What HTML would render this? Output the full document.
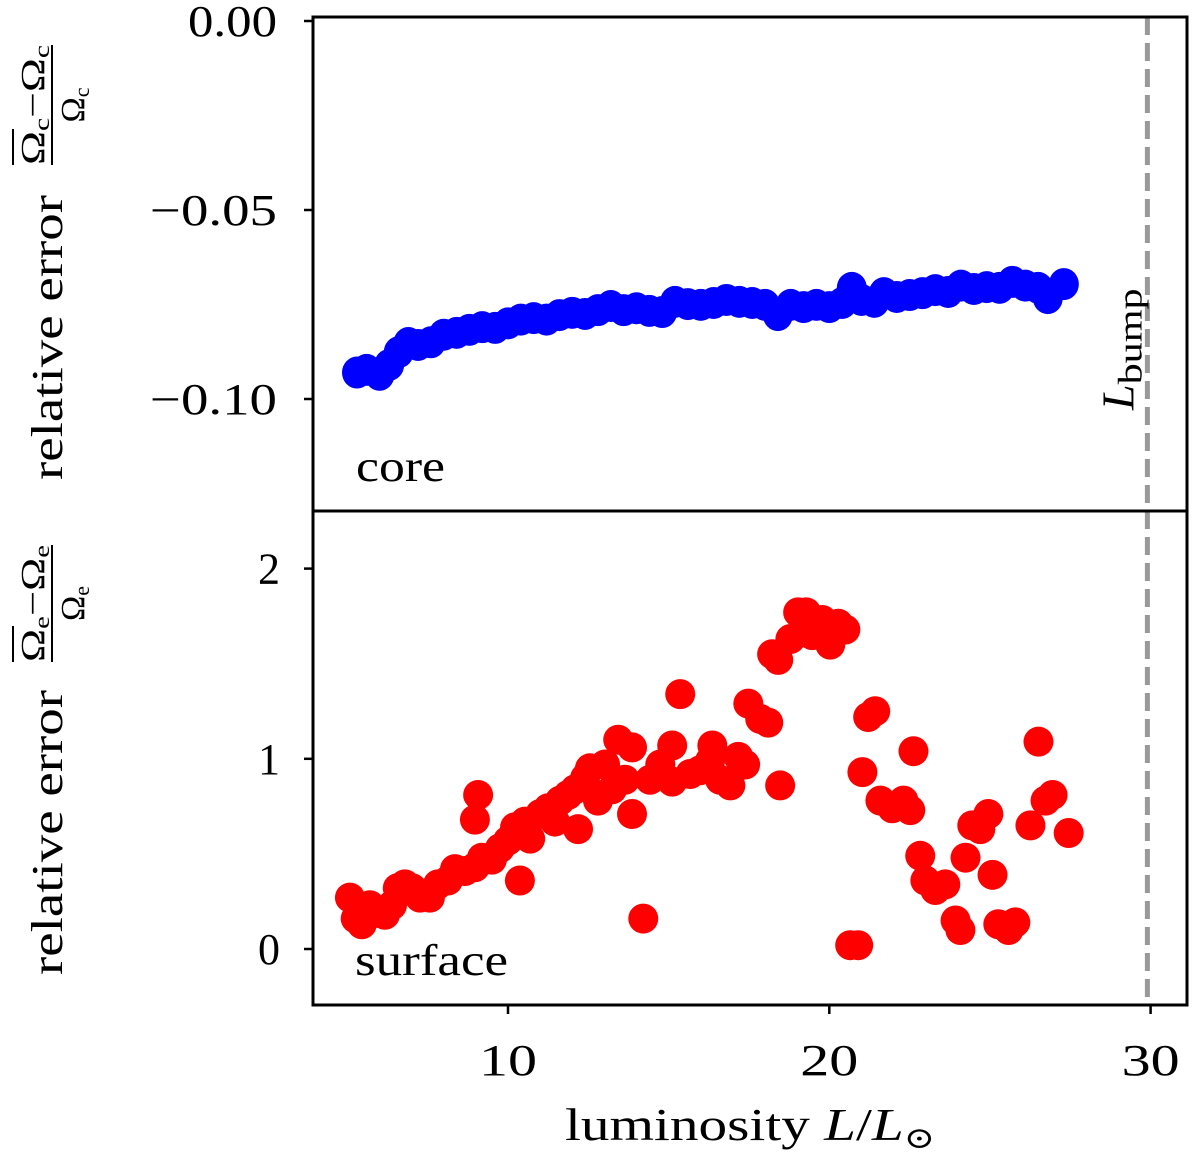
<!DOCTYPE html>
<html><head><meta charset="utf-8"><style>
body{margin:0;background:#fff}
svg{display:block;font-family:"Liberation Serif","DejaVu Serif",serif}
</style></head><body>
<svg id="chart" width="1200" height="1164" viewBox="0 0 1200 1164">
<g id="top-marks"></g>
<g id="bot-marks"></g>
<g id="axes"></g>
</svg>
<script>
const coreL=[5.3,5.6,6.0,6.3,6.6,6.9,7.2,7.6,8.0,8.4,8.8,9.2,9.6,10.0,10.4,10.8,11.2,11.6,12.0,12.4,12.8,13.2,13.6,14.0,14.4,14.8,15.2,15.6,16.0,16.4,16.8,17.2,17.6,18.0,18.4,18.8,19.2,19.6,20.0,20.4,20.7,21.0,21.4,21.7,22.1,22.5,22.9,23.3,23.7,24.1,24.5,24.9,25.3,25.7,26.1,26.5,26.8,27.3];
const coreErr=[-0.093,-0.0923,-0.0936,-0.091,-0.0876,-0.0852,-0.0857,-0.085,-0.083,-0.0825,-0.0817,-0.081,-0.0812,-0.080,-0.079,-0.0786,-0.079,-0.0778,-0.0772,-0.0775,-0.0765,-0.0754,-0.0765,-0.076,-0.0767,-0.077,-0.0743,-0.0749,-0.0751,-0.0746,-0.0738,-0.0743,-0.0746,-0.0751,-0.0778,-0.0751,-0.0757,-0.0751,-0.0757,-0.0746,-0.0706,-0.0738,-0.0743,-0.072,-0.073,-0.0725,-0.072,-0.0712,-0.0717,-0.070,-0.0709,-0.0704,-0.0706,-0.069,-0.070,-0.0706,-0.0733,-0.0696];
const surfL=[5.08,5.26,5.45,5.70,5.95,6.17,6.39,6.57,6.79,7.01,7.26,7.57,7.82,8.13,8.35,8.66,8.97,9.19,9.50,9.75,10.00,10.22,10.37,10.53,10.69,11.00,11.25,11.46,11.62,11.87,12.09,12.18,12.40,12.55,12.80,13.02,13.24,13.43,13.64,13.86,8.97,9.07,14.21,13.86,14.42,14.74,15.11,15.11,15.36,15.67,15.98,16.29,16.36,16.60,16.92,17.17,17.38,17.48,17.85,18.10,18.47,18.22,18.41,18.79,19.03,19.28,19.47,19.78,20.03,20.28,20.50,20.65,20.90,21.03,21.21,21.43,21.59,21.96,22.31,22.52,22.62,22.83,22.99,23.30,23.61,23.93,24.08,24.24,24.45,24.70,24.95,25.08,25.26,25.58,25.79,26.26,26.51,26.73,26.95,27.45];
const surfErr=[0.27,0.16,0.13,0.23,0.19,0.18,0.23,0.32,0.34,0.32,0.27,0.27,0.34,0.36,0.42,0.41,0.43,0.48,0.47,0.53,0.57,0.64,0.36,0.67,0.58,0.71,0.74,0.67,0.78,0.81,0.84,0.63,0.90,0.95,0.78,0.97,0.84,1.10,0.89,0.71,0.68,0.81,0.16,1.06,0.89,0.97,1.07,0.88,1.34,0.92,0.94,0.99,1.07,0.89,0.86,1.01,0.97,1.29,1.21,1.19,0.86,1.55,1.52,1.63,1.77,1.77,1.65,1.73,1.60,1.71,1.68,0.02,0.02,0.93,1.22,1.25,0.78,0.74,0.78,0.73,1.04,0.49,0.36,0.31,0.34,0.15,0.10,0.48,0.65,0.63,0.71,0.39,0.13,0.10,0.14,0.65,1.09,0.78,0.81,0.61];
const xTicks=[10,20,30];
const topTicks=[0.00,-0.05,-0.10];
const topTickLabels=["0.00","\u22120.05","\u22120.10"];
const botTicks=[0,1,2];
const botTickLabels=["0","1","2"];
const Lbump=29.9;

const NS="http://www.w3.org/2000/svg";
const X0=313,X1=1187,TY0=17,TY1=511,BY0=511,BY1=1005;
const xs=v=>508+(v-10)*32.13;
const ty=v=>21-v*3780;
const by=v=>949-v*190.2;
function mk(parent,tag,attrs,text){const e=document.createElementNS(NS,tag);for(const k in attrs)e.setAttribute(k,attrs[k]);if(text!==undefined)e.textContent=text;parent.appendChild(e);return e;}

const tm=document.getElementById('top-marks');
coreL.forEach((l,i)=>{const c=mk(tm,'ellipse',{cx:xs(l),cy:ty(coreErr[i]),rx:15,ry:16,fill:'#0000ff'});

});
const bm=document.getElementById('bot-marks');
surfL.forEach((l,i)=>{const c=mk(bm,'circle',{cx:xs(l),cy:by(surfErr[i]),r:15,fill:'#ff0000'});

});

const ax=document.getElementById('axes');
[[TY0,TY1],[BY0,BY1]].forEach(([a,b])=>{const ln=mk(ax,'line',{x1:xs(Lbump),x2:xs(Lbump),y1:a,y2:b,stroke:'#999',"stroke-width":5,"stroke-dasharray":"18,8"});

});
const lt=mk(ax,'text',{transform:`translate(${xs(Lbump)-14},410) rotate(-90)`,"font-size":46,"font-style":"italic"});


lt.innerHTML='L<tspan font-style="normal" font-size="34" dy="8" textLength="96" lengthAdjust="spacingAndGlyphs">bump</tspan>';
[[TY0,TY1,'top-frame'],[BY0,BY1,'bottom-frame']].forEach(([a,b,n])=>{const r=mk(ax,'rect',{x:X0,y:a,width:X1-X0,height:b-a,fill:'none',stroke:'#000',"stroke-width":3});

});
topTicks.forEach((t,i)=>{mk(ax,'line',{x1:X0-9,x2:X0,y1:ty(t),y2:ty(t),stroke:'#000',"stroke-width":2.5});
const len=topTickLabels[i].length>4?127:89;
const tx=mk(ax,'text',{x:X0-36-len,y:ty(t)+15,"font-size":44,textLength:len,lengthAdjust:"spacingAndGlyphs"},topTickLabels[i]);

});
botTicks.forEach((t,i)=>{mk(ax,'line',{x1:X0-9,x2:X0,y1:by(t),y2:by(t),stroke:'#000',"stroke-width":2.5});
const tx=mk(ax,'text',{x:X0-33,y:by(t)+15,"font-size":44,"text-anchor":"end"},botTickLabels[i]);

});
xTicks.forEach(t=>{mk(ax,'line',{x1:xs(t),x2:xs(t),y1:BY1,y2:BY1+9,stroke:'#000',"stroke-width":2.5});
const tx=mk(ax,'text',{x:xs(t)-29,y:1075,"font-size":44,textLength:58,lengthAdjust:"spacingAndGlyphs"},String(t));

});
const xt=mk(ax,'text',{x:565,y:1140,"font-size":46,textLength:370,lengthAdjust:"spacingAndGlyphs"});


xt.innerHTML='luminosity <tspan font-style="italic">L</tspan>/<tspan font-style="italic">L</tspan><tspan font-size="30" dy="8">⊙</tspan>';
const c1=mk(ax,'text',{x:356,y:481,"font-size":44,textLength:89,lengthAdjust:"spacingAndGlyphs"},'core');


const c2=mk(ax,'text',{x:355,y:975,"font-size":44,textLength:153,lengthAdjust:"spacingAndGlyphs"},'surface');


function ylabel(bottomY,fracEnd,fracStart,sub,name){
 const g=mk(ax,'g',{transform:'rotate(-90)'});
 
 
 mk(g,'text',{x:-bottomY,y:62,"font-size":44,textLength:bottomY-(bottomY-285),lengthAdjust:"spacingAndGlyphs"},'relative error');
 const num=mk(g,'text',{x:-fracStart,y:44,"font-size":34,textLength:fracStart-fracEnd,lengthAdjust:"spacingAndGlyphs"});
 num.innerHTML='Ω<tspan font-size="22" dy="5">'+sub+'</tspan><tspan dy="-5">−Ω</tspan><tspan font-size="22" dy="5">'+sub+'</tspan>';
 mk(g,'line',{x1:-fracStart,x2:-fracStart+36,y1:13,y2:13,stroke:'#000',"stroke-width":2});
 mk(g,'line',{x1:-fracStart,x2:-fracEnd,y1:52,y2:52,stroke:'#000',"stroke-width":2});
 const mid=(fracStart+fracEnd)/2;
 const den=mk(g,'text',{x:-mid,y:84,"font-size":34,"text-anchor":"middle"});
 den.innerHTML='Ω<tspan font-size="22" dy="5">'+sub+'</tspan>';
}
ylabel(480,45,165,'c','top-y-axis-title');
ylabel(975,545,662,'e','bottom-y-axis-title');
</script>
</body></html>
